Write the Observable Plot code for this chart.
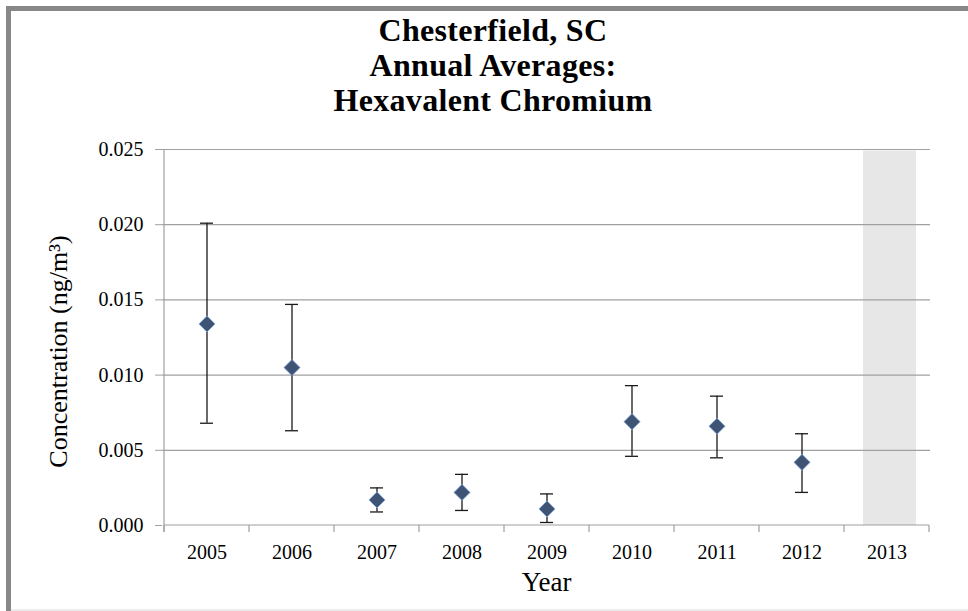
<!DOCTYPE html>
<html>
<head>
<meta charset="utf-8">
<script src="https://cdn.jsdelivr.net/npm/d3@7"></script>
<script src="https://cdn.jsdelivr.net/npm/@observablehq/plot@0.6"></script>
<style>
  html, body { margin: 0; padding: 0; background: #fff; }
  #wrap { position: relative; width: 968px; height: 611px; overflow: hidden; background: #fff; }
  #frame { position: absolute; left: 6px; top: 6px; width: 1000px; height: 700px;
           border-top: 5px solid #888888; border-left: 5px solid #888888; pointer-events: none; }
  #bottomline { position: absolute; left: 11px; top: 609px; width: 960px; height: 2px; background: #ececec; }
  #title { position: absolute; top: 13px; left: 0; width: 986px; text-align: center;
           font-family: "Liberation Serif", "Times New Roman", serif; font-weight: bold;
           font-size: 32px; letter-spacing: 0.3px; line-height: 35px; color: #000; }
  #chart { position: absolute; left: 0; top: 122px; }
</style>
</head>
<body>
<div id="wrap">
  <div id="title">Chesterfield, SC<br>Annual Averages:<br>Hexavalent Chromium</div>
  <div id="chart"></div>
  <div id="bottomline"></div>
  <div id="frame"></div>
</div>
<script>
// ---- data ----
const years = ["2005", "2006", "2007", "2008", "2009", "2010", "2011", "2012", "2013"];
const dataYears = ["2005", "2006", "2007", "2008", "2009", "2010", "2011", "2012"];
const means = [0.0134, 0.0105, 0.0017, 0.0022, 0.0011, 0.0069, 0.0066, 0.0042];
const lower = [0.0068, 0.0063, 0.0009, 0.0010, 0.0002, 0.0046, 0.0045, 0.0022];
const upper = [0.0201, 0.0147, 0.0025, 0.0034, 0.0021, 0.0093, 0.0086, 0.0061];
const shadedYears = ["2013"];
const shadedTop = [0.0249];
const yTicks = [0, 0.005, 0.010, 0.015, 0.020, 0.025];
const yLabel = "Concentration (ng/m³)";
const xLabel = "Year";

const data = dataYears.map((year, i) => ({year, mean: means[i], lo: lower[i], hi: upper[i]}));
const shaded = shadedYears.map((year, i) => ({year, top: shadedTop[i]}));

const axisColor = "#a0a0a0";

// axis lines + category boundary ticks, drawn from the band scale
function axisLinesAndBoundaries(index, scales, values, dimensions) {
  const x = scales.x, y = scales.y;
  const bw = x(years[1]) - x(years[0]);
  const g = d3.create("svg:g").attr("stroke", axisColor).attr("stroke-width", 1.2);
  const y0 = y(0);
  const yTop = y(yTicks[yTicks.length - 1]);
  const xl = x(years[0]);
  const xr = x(years[years.length - 1]) + bw;
  g.append("line").attr("x1", xl).attr("x2", xl).attr("y1", yTop).attr("y2", y0 + 7);
  g.append("line").attr("x1", xl).attr("x2", xr).attr("y1", y0).attr("y2", y0);
  const bounds = years.map(d => x(d)).concat([xr]);
  for (const b of bounds) {
    g.append("line").attr("x1", b).attr("x2", b).attr("y1", y0).attr("y2", y0 + 7);
  }
  return g.node();
}

const chart = Plot.plot({
  width: 968,
  height: 489,
  marginTop: 27,
  marginBottom: 86,
  marginLeft: 162,
  marginRight: 38,
  x: {type: "band", domain: years, padding: 0, label: null},
  y: {domain: [0, 0.025], label: null},
  style: {fontFamily: "'Liberation Serif', 'Times New Roman', serif", fontSize: "20px", color: "#000", background: "transparent"},
  marks: [
    Plot.barY(shaded, {x: "year", y: "top", fill: "#e7e7e7", insetLeft: 19, insetRight: 13}),
    Plot.gridY(yTicks.slice(1), {stroke: axisColor, strokeOpacity: 1, strokeWidth: 1.2}),
    axisLinesAndBoundaries,
    Plot.axisY(yTicks, {tickFormat: d3.format(".3f"), tickSize: 7, tickPadding: 12, stroke: axisColor, label: null}),
    Plot.axisX({tickSize: 0, tickPadding: 19, label: null}),
    Plot.ruleX(data, {x: "year", y1: "lo", y2: "hi", stroke: "#1a1a1a", strokeWidth: 1.3}),
    Plot.tickY(data, {x: "year", y: "hi", insetLeft: 36, insetRight: 36, stroke: "#1a1a1a", strokeWidth: 1.3}),
    Plot.tickY(data, {x: "year", y: "lo", insetLeft: 36, insetRight: 36, stroke: "#1a1a1a", strokeWidth: 1.3}),
    Plot.dot(data, {x: "year", y: "mean", symbol: "diamond2", r: 7.3, fill: "#3f5475", stroke: "#8aaee0", strokeWidth: 0.8}),
    Plot.text([yLabel], {frameAnchor: "left", textAnchor: "middle", rotate: -90, dx: -104, dy: 14, fontSize: 26, fill: "#000"}),
    Plot.text([xLabel], {frameAnchor: "bottom", lineAnchor: "middle", dy: 57, fontSize: 27, fill: "#000"})
  ]
});
document.getElementById("chart").appendChild(chart);
</script>
</body>
</html>
